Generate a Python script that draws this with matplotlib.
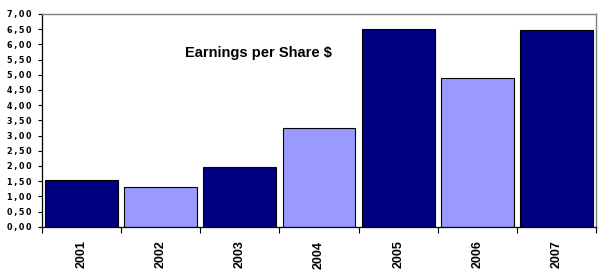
import matplotlib
matplotlib.use("Agg")
import matplotlib.pyplot as plt
import numpy as np
from matplotlib.ticker import FixedLocator, FuncFormatter

years = ["2001", "2002", "2003", "2004", "2005", "2006", "2007"]
eps = [1.55, 1.32, 1.97, 3.25, 6.51, 4.89, 6.48]
bar_colors = ["#000080", "#9999FF", "#000080", "#9999FF", "#000080", "#9999FF", "#000080"]
title = "Earnings per Share $"

plt.rcParams['font.family'] = ['Liberation Sans', 'DejaVu Sans']
fig = plt.figure(figsize=(6.12, 2.73), dpi=100)
ax = fig.add_axes([42/612, 1-226.7/273, (596-42)/612, (226.7-14)/273])

x = np.arange(len(years))
ax.bar(x, eps, width=0.92, color=bar_colors, edgecolor="black", linewidth=0.8, zorder=2)
ax.set_xlim(-0.5, len(years)-0.5)
ax.set_ylim(0, 7)
ax.yaxis.set_major_locator(FixedLocator(np.arange(0, 7.01, 0.5)))
ax.yaxis.set_major_formatter(FuncFormatter(
    lambda v, p: "\u2009".join(f"{v:.2f}".replace(".", ","))))
for lab in ax.get_yticklabels():
    lab.set_fontweight("bold")
    lab.set_family("DejaVu Sans")
ax.tick_params(axis="y", direction="out", length=3, width=0.8, labelsize=5.8, pad=4.5)

ax.set_xticks(x)
ax.set_xticklabels(years, rotation=90, fontsize=9, fontweight="bold")
ax.tick_params(axis="x", which="major", length=0, pad=10)
ax.set_xticks(np.arange(-0.5, len(years), 1), minor=True)
ax.tick_params(axis="x", which="minor", direction="out", length=4, width=0.8)

for s in ["top", "right"]:
    ax.spines[s].set_color("#808080")
    ax.spines[s].set_linewidth(1.0)
for s in ["left", "bottom"]:
    ax.spines[s].set_color("black")
    ax.spines[s].set_linewidth(0.9)

ax.text(0.259, 0.817, title, transform=ax.transAxes, fontsize=10.5, fontweight="bold",
        ha="left", va="center")

fig.savefig("out.png", dpi=100)
